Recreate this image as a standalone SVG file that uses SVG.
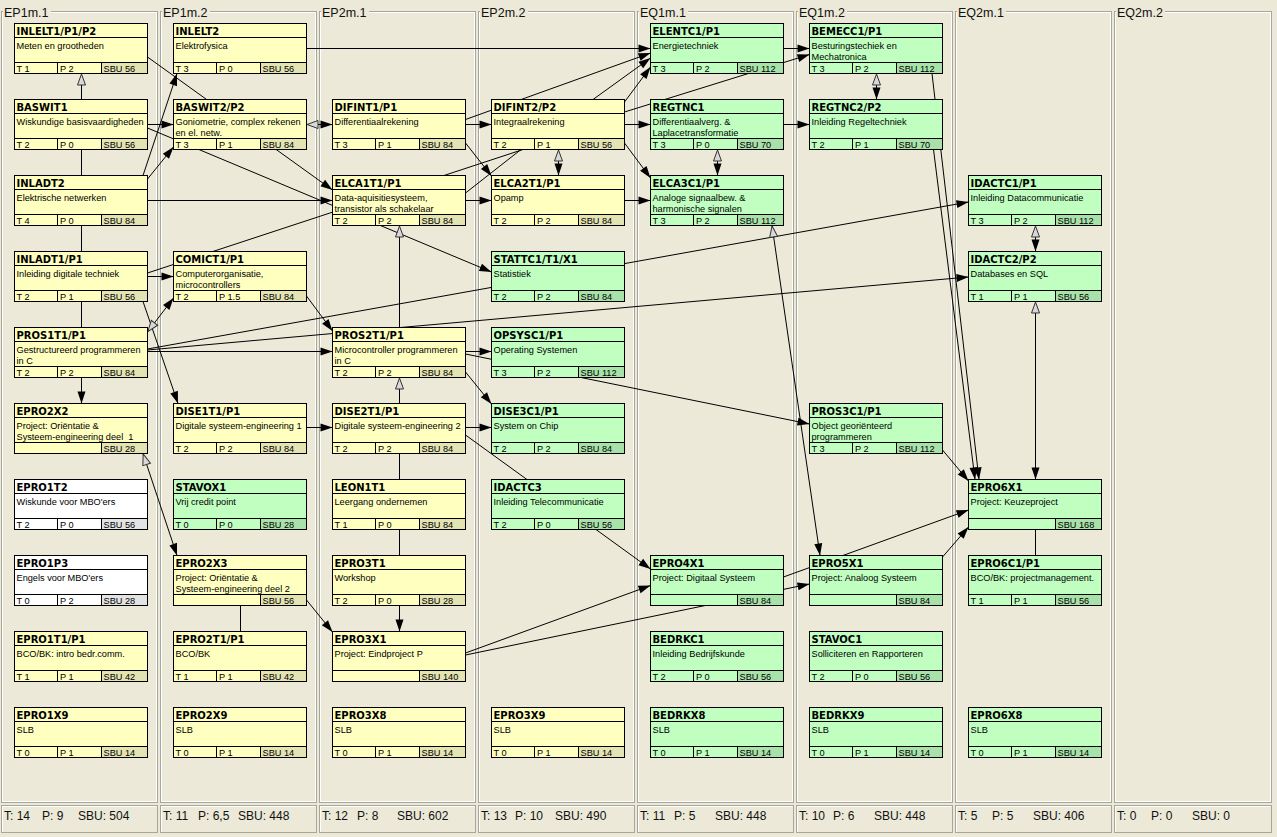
<svg xmlns="http://www.w3.org/2000/svg" width="1277" height="837" viewBox="0 0 1277 837">
<style>
.fr{fill:none;stroke:#A7A69A;stroke-width:1}
.frw{fill:none;stroke:#FFFFFF;stroke-width:1}
.hb{fill:#ECE9D8}
.hd{font-family:"Liberation Sans",Arial,sans-serif;font-size:12.5px;fill:#111}
.ft{font-family:"Liberation Sans",Arial,sans-serif;font-size:12px;fill:#111}
.ln{fill:none;stroke:#000;stroke-width:1}
.a{marker-end:url(#fa)}
.h{marker-start:url(#ha)}
.he{marker-end:url(#ha)}
.node .f{stroke:none}
.node .o{fill:none;stroke:#000;stroke-width:1}
.node .gl{fill:none;stroke:#000;stroke-width:1}
.y .f{fill:#FFFFC0}.y .s{fill:#E4E3B2}
.g .f{fill:#C0FFC0}.g .s{fill:#A9E2A9}
.w .f{fill:#FFFFFF}.w .s{fill:#E3E3E3}
.t{font-family:"DejaVu Sans",Verdana,sans-serif;font-weight:bold;font-size:10px;fill:#000}
.d{font-family:"Liberation Sans",Arial,sans-serif;font-size:9.2px;fill:#000}
</style>
<defs>
<marker id="fa" markerUnits="userSpaceOnUse" markerWidth="13" markerHeight="9" refX="12" refY="4.5" orient="auto" overflow="visible">
<path d="M0,0.5L12,4.5L0,8.5z" fill="#000"/>
</marker>
<marker id="ha" markerUnits="userSpaceOnUse" markerWidth="13" markerHeight="9" refX="12" refY="4.5" orient="auto-start-reverse" overflow="visible">
<path d="M0.5,0.5L11.5,4.5L0.5,8.5z" fill="#D8D8D8" stroke="#333" stroke-width="1"/>
</marker>
</defs>
<rect x="0" y="0" width="1277" height="837" fill="#ECE9D8"/>
<g id="columns">
<rect class="fr" x="1.5" y="11.5" width="156" height="791"/><rect class="frw" x="2.5" y="12.5" width="154" height="789"/>
<rect class="fr" x="160.5" y="11.5" width="156" height="791"/><rect class="frw" x="161.5" y="12.5" width="154" height="789"/>
<rect class="fr" x="319.5" y="11.5" width="156" height="791"/><rect class="frw" x="320.5" y="12.5" width="154" height="789"/>
<rect class="fr" x="478.5" y="11.5" width="156" height="791"/><rect class="frw" x="479.5" y="12.5" width="154" height="789"/>
<rect class="fr" x="637.5" y="11.5" width="156" height="791"/><rect class="frw" x="638.5" y="12.5" width="154" height="789"/>
<rect class="fr" x="796.5" y="11.5" width="156" height="791"/><rect class="frw" x="797.5" y="12.5" width="154" height="789"/>
<rect class="fr" x="955.5" y="11.5" width="156" height="791"/><rect class="frw" x="956.5" y="12.5" width="154" height="789"/>
<rect class="fr" x="1114.5" y="11.5" width="157" height="791"/><rect class="frw" x="1115.5" y="12.5" width="155" height="789"/>
<rect class="hb" x="3" y="4" width="48" height="12"/><text class="hd" x="4" y="17">EP1m.1</text>
<rect class="hb" x="162" y="4" width="48" height="12"/><text class="hd" x="163" y="17">EP1m.2</text>
<rect class="hb" x="321" y="4" width="48" height="12"/><text class="hd" x="322" y="17">EP2m.1</text>
<rect class="hb" x="480" y="4" width="48" height="12"/><text class="hd" x="481" y="17">EP2m.2</text>
<rect class="hb" x="639" y="4" width="49" height="12"/><text class="hd" x="640" y="17">EQ1m.1</text>
<rect class="hb" x="798" y="4" width="49" height="12"/><text class="hd" x="799" y="17">EQ1m.2</text>
<rect class="hb" x="957" y="4" width="49" height="12"/><text class="hd" x="958" y="17">EQ2m.1</text>
<rect class="hb" x="1116" y="4" width="49" height="12"/><text class="hd" x="1117" y="17">EQ2m.2</text>
</g>
<g id="footer">
<rect class="fr" x="1.5" y="805.5" width="156" height="27"/><path class="frw" d="M2.5,831.5V806.5H156.5"/>
<rect class="fr" x="160.5" y="805.5" width="156" height="27"/><path class="frw" d="M161.5,831.5V806.5H315.5"/>
<rect class="fr" x="319.5" y="805.5" width="156" height="27"/><path class="frw" d="M320.5,831.5V806.5H474.5"/>
<rect class="fr" x="478.5" y="805.5" width="156" height="27"/><path class="frw" d="M479.5,831.5V806.5H633.5"/>
<rect class="fr" x="637.5" y="805.5" width="156" height="27"/><path class="frw" d="M638.5,831.5V806.5H792.5"/>
<rect class="fr" x="796.5" y="805.5" width="156" height="27"/><path class="frw" d="M797.5,831.5V806.5H951.5"/>
<rect class="fr" x="955.5" y="805.5" width="156" height="27"/><path class="frw" d="M956.5,831.5V806.5H1110.5"/>
<rect class="fr" x="1114.5" y="805.5" width="157" height="27"/><path class="frw" d="M1115.5,831.5V806.5H1270.5"/>
<text class="ft" x="4" y="820">T: 14</text><text class="ft" x="42" y="820">P: 9</text><text class="ft" x="78" y="820">SBU: 504</text>
<text class="ft" x="163" y="820">T: 11</text><text class="ft" x="198" y="820">P: 6,5</text><text class="ft" x="238" y="820">SBU: 448</text>
<text class="ft" x="322" y="820">T: 12</text><text class="ft" x="357" y="820">P: 8</text><text class="ft" x="397" y="820">SBU: 602</text>
<text class="ft" x="481" y="820">T: 13</text><text class="ft" x="515" y="820">P: 10</text><text class="ft" x="555" y="820">SBU: 490</text>
<text class="ft" x="640" y="820">T: 11</text><text class="ft" x="674" y="820">P: 5</text><text class="ft" x="715" y="820">SBU: 448</text>
<text class="ft" x="799" y="820">T: 10</text><text class="ft" x="833" y="820">P: 6</text><text class="ft" x="874" y="820">SBU: 448</text>
<text class="ft" x="958" y="820">T: 5</text><text class="ft" x="992" y="820">P: 5</text><text class="ft" x="1033" y="820">SBU: 406</text>
<text class="ft" x="1117" y="820">T: 0</text><text class="ft" x="1151" y="820">P: 0</text><text class="ft" x="1192" y="820">SBU: 0</text>
</g>
<g id="connectors">
<path class="ln" d="M81.5,149.5V175.5"/>
<path class="ln" d="M81.5,225.5V251.5"/>
<path class="ln" d="M81.5,301.5V327.5"/>
<path class="ln" d="M147.5,273L523,149.5"/>
<path class="ln" d="M465.5,193L521,149.5"/>
<path class="ln" d="M399.5,453.5V479.5"/>
<path class="ln" d="M399.5,529.5V555.5"/>
<path class="ln" d="M240.5,605.5V631.5"/>
<path class="ln" d="M1035.5,529.5V555.5"/>
<path class="ln a" d="M81.5,377.5V403.5"/>
<path class="ln a" d="M147.5,57L332.5,190"/>
<path class="ln a" d="M147.5,124.5H173.5"/>
<path class="ln a" d="M147.5,128L491.5,272"/>
<path class="ln a" d="M143,175.5L177,73.5"/>
<path class="ln a" d="M147.5,179L173.5,147"/>
<path class="ln a" d="M147.5,200.5H332.5"/>
<path class="ln a" d="M306.5,48.5H650.5"/>
<path class="ln a" d="M465.5,124.5H491.5"/>
<path class="ln a" d="M465.5,119.5L650.5,53"/>
<path class="ln a" d="M593,99.5L650.5,58"/>
<path class="ln a" d="M624.5,102L650.5,67"/>
<path class="ln a" d="M624.5,112L809.5,54.5"/>
<path class="ln a" d="M624.5,124.5H650.5"/>
<path class="ln a" d="M624.5,143L650.5,178"/>
<path class="ln a" d="M465.5,143L491.5,176"/>
<path class="ln a" d="M465.5,200.5H491.5"/>
<path class="ln a" d="M624.5,200.5H650.5"/>
<path class="ln a" d="M783.5,48.5H809.5"/>
<path class="ln a" d="M783.5,124.5H809.5"/>
<path class="ln a" d="M147.5,276.5H173.5"/>
<path class="ln a" d="M143,301.5L178,403.5"/>
<path class="ln a" d="M306.5,296L332.5,331"/>
<path class="ln a" d="M147.5,351.5H332.5"/>
<path class="ln a" d="M147.5,349L968.5,202"/>
<path class="ln a" d="M147.5,350L968.5,277"/>
<path class="ln a" d="M465.5,351.5H491.5"/>
<path class="ln a" d="M465.5,354L809.5,424"/>
<path class="ln a" d="M465.5,372L491.5,404"/>
<path class="ln a" d="M306.5,427.5H332.5"/>
<path class="ln a" d="M465.5,427.5H491.5"/>
<path class="ln a" d="M465.5,435L650.5,569"/>
<path class="ln a" d="M306.5,600L332.5,632"/>
<path class="ln a" d="M399.5,605.5V631.5"/>
<path class="ln a" d="M465.5,653L650.5,585.5"/>
<path class="ln a" d="M465.5,655L809.5,584"/>
<path class="ln a" d="M783.5,577L968.5,510"/>
<path class="ln a" d="M942.5,557L968.5,527"/>
<path class="ln a" d="M942.5,450L968.5,481"/>
<path class="ln a" d="M932,73.5L979,479.5"/>
<path class="ln a" d="M933.5,149.5L975,479.5"/>
<path class="ln a h" d="M306.5,124.5H332.5"/>
<path class="ln a h" d="M558.5,149.5V175.5"/>
<path class="ln a h" d="M876.5,73.5V99.5"/>
<path class="ln a h" d="M717.5,149.5V175.5"/>
<path class="ln a h" d="M147.5,332L173.5,298"/>
<path class="ln a h" d="M143,453.5L177,555.5"/>
<path class="ln a h" d="M772,225.5L820,555.5"/>
<path class="ln a h" d="M1035.5,225.5V251.5"/>
<path class="ln a h" d="M1035.5,301.5V479.5"/>
<path class="ln he" d="M81.5,99.5V73.5"/>
<path class="ln he" d="M399.5,327.5V225.5"/>
<path class="ln he" d="M399.5,403.5V377.5"/>
</g>
<g id="nodes">
<g id="n-INLELT1-P1-P2" class="node y" transform="translate(14.5,23.5)"><rect class="f" width="133" height="50"/><rect class="s" x="87" y="39" width="46" height="11"/><path class="gl" d="M0,14H133M0,39H133M43,39V50M87,39V50"/><rect class="o" width="133" height="50"/><text class="t" x="2" y="11">INLELT1/P1/P2</text><text class="d" x="2" y="25">Meten en grootheden</text><text class="d" x="2" y="48.5">T 1</text><text class="d" x="45.5" y="48.5">P 2</text><text class="d" x="89" y="48.5">SBU 56</text></g>
<g id="n-BASWIT1" class="node y" transform="translate(14.5,99.5)"><rect class="f" width="133" height="50"/><rect class="s" x="87" y="39" width="46" height="11"/><path class="gl" d="M0,14H133M0,39H133M43,39V50M87,39V50"/><rect class="o" width="133" height="50"/><text class="t" x="2" y="11">BASWIT1</text><text class="d" x="2" y="25">Wiskundige basisvaardigheden</text><text class="d" x="2" y="48.5">T 2</text><text class="d" x="45.5" y="48.5">P 0</text><text class="d" x="89" y="48.5">SBU 56</text></g>
<g id="n-INLADT2" class="node y" transform="translate(14.5,175.5)"><rect class="f" width="133" height="50"/><rect class="s" x="87" y="39" width="46" height="11"/><path class="gl" d="M0,14H133M0,39H133M43,39V50M87,39V50"/><rect class="o" width="133" height="50"/><text class="t" x="2" y="11">INLADT2</text><text class="d" x="2" y="25">Elektrische netwerken</text><text class="d" x="2" y="48.5">T 4</text><text class="d" x="45.5" y="48.5">P 0</text><text class="d" x="89" y="48.5">SBU 84</text></g>
<g id="n-INLADT1-P1" class="node y" transform="translate(14.5,251.5)"><rect class="f" width="133" height="50"/><rect class="s" x="87" y="39" width="46" height="11"/><path class="gl" d="M0,14H133M0,39H133M43,39V50M87,39V50"/><rect class="o" width="133" height="50"/><text class="t" x="2" y="11">INLADT1/P1</text><text class="d" x="2" y="25">Inleiding digitale techniek</text><text class="d" x="2" y="48.5">T 2</text><text class="d" x="45.5" y="48.5">P 1</text><text class="d" x="89" y="48.5">SBU 56</text></g>
<g id="n-PROS1T1-P1" class="node y" transform="translate(14.5,327.5)"><rect class="f" width="133" height="50"/><rect class="s" x="87" y="39" width="46" height="11"/><path class="gl" d="M0,14H133M0,39H133M43,39V50M87,39V50"/><rect class="o" width="133" height="50"/><text class="t" x="2" y="11">PROS1T1/P1</text><text class="d" x="2" y="25">Gestructureerd programmeren</text><text class="d" x="2" y="36.5">in C</text><text class="d" x="2" y="48.5">T 2</text><text class="d" x="45.5" y="48.5">P 2</text><text class="d" x="89" y="48.5">SBU 84</text></g>
<g id="n-EPRO2X2" class="node y" transform="translate(14.5,403.5)"><rect class="f" width="133" height="50"/><rect class="s" x="87" y="39" width="46" height="11"/><path class="gl" d="M0,14H133M0,39H133M87,39V50"/><rect class="o" width="133" height="50"/><text class="t" x="2" y="11">EPRO2X2</text><text class="d" x="2" y="25">Project: Oriëntatie &amp;</text><text class="d" x="2" y="36.5" xml:space="preserve">Systeem-engineering deel  1</text><text class="d" x="89" y="48.5">SBU 28</text></g>
<g id="n-EPRO1T2" class="node w" transform="translate(14.5,479.5)"><rect class="f" width="133" height="50"/><rect class="s" x="87" y="39" width="46" height="11"/><path class="gl" d="M0,14H133M0,39H133M43,39V50M87,39V50"/><rect class="o" width="133" height="50"/><text class="t" x="2" y="11">EPRO1T2</text><text class="d" x="2" y="25">Wiskunde voor MBO'ers</text><text class="d" x="2" y="48.5">T 2</text><text class="d" x="45.5" y="48.5">P 0</text><text class="d" x="89" y="48.5">SBU 56</text></g>
<g id="n-EPRO1P3" class="node w" transform="translate(14.5,555.5)"><rect class="f" width="133" height="50"/><rect class="s" x="87" y="39" width="46" height="11"/><path class="gl" d="M0,14H133M0,39H133M43,39V50M87,39V50"/><rect class="o" width="133" height="50"/><text class="t" x="2" y="11">EPRO1P3</text><text class="d" x="2" y="25">Engels voor MBO'ers</text><text class="d" x="2" y="48.5">T 0</text><text class="d" x="45.5" y="48.5">P 2</text><text class="d" x="89" y="48.5">SBU 28</text></g>
<g id="n-EPRO1T1-P1" class="node y" transform="translate(14.5,631.5)"><rect class="f" width="133" height="50"/><rect class="s" x="87" y="39" width="46" height="11"/><path class="gl" d="M0,14H133M0,39H133M43,39V50M87,39V50"/><rect class="o" width="133" height="50"/><text class="t" x="2" y="11">EPRO1T1/P1</text><text class="d" x="2" y="25">BCO/BK: intro bedr.comm.</text><text class="d" x="2" y="48.5">T 1</text><text class="d" x="45.5" y="48.5">P 1</text><text class="d" x="89" y="48.5">SBU 42</text></g>
<g id="n-EPRO1X9" class="node y" transform="translate(14.5,707.5)"><rect class="f" width="133" height="50"/><rect class="s" x="87" y="39" width="46" height="11"/><path class="gl" d="M0,14H133M0,39H133M43,39V50M87,39V50"/><rect class="o" width="133" height="50"/><text class="t" x="2" y="11">EPRO1X9</text><text class="d" x="2" y="25">SLB</text><text class="d" x="2" y="48.5">T 0</text><text class="d" x="45.5" y="48.5">P 1</text><text class="d" x="89" y="48.5">SBU 14</text></g>

<g id="n-INLELT2" class="node y" transform="translate(173.5,23.5)"><rect class="f" width="133" height="50"/><rect class="s" x="87" y="39" width="46" height="11"/><path class="gl" d="M0,14H133M0,39H133M43,39V50M87,39V50"/><rect class="o" width="133" height="50"/><text class="t" x="2" y="11">INLELT2</text><text class="d" x="2" y="25">Elektrofysica</text><text class="d" x="2" y="48.5">T 3</text><text class="d" x="45.5" y="48.5">P 0</text><text class="d" x="89" y="48.5">SBU 56</text></g>
<g id="n-BASWIT2-P2" class="node y" transform="translate(173.5,99.5)"><rect class="f" width="133" height="50"/><rect class="s" x="87" y="39" width="46" height="11"/><path class="gl" d="M0,14H133M0,39H133M43,39V50M87,39V50"/><rect class="o" width="133" height="50"/><text class="t" x="2" y="11">BASWIT2/P2</text><text class="d" x="2" y="25">Goniometrie, complex rekenen</text><text class="d" x="2" y="36.5">en el. netw.</text><text class="d" x="2" y="48.5">T 3</text><text class="d" x="45.5" y="48.5">P 1</text><text class="d" x="89" y="48.5">SBU 84</text></g>
<g id="n-COMICT1-P1" class="node y" transform="translate(173.5,251.5)"><rect class="f" width="133" height="50"/><rect class="s" x="87" y="39" width="46" height="11"/><path class="gl" d="M0,14H133M0,39H133M43,39V50M87,39V50"/><rect class="o" width="133" height="50"/><text class="t" x="2" y="11">COMICT1/P1</text><text class="d" x="2" y="25">Computerorganisatie,</text><text class="d" x="2" y="36.5">microcontrollers</text><text class="d" x="2" y="48.5">T 2</text><text class="d" x="45.5" y="48.5">P 1.5</text><text class="d" x="89" y="48.5">SBU 84</text></g>
<g id="n-DISE1T1-P1" class="node y" transform="translate(173.5,403.5)"><rect class="f" width="133" height="50"/><rect class="s" x="87" y="39" width="46" height="11"/><path class="gl" d="M0,14H133M0,39H133M43,39V50M87,39V50"/><rect class="o" width="133" height="50"/><text class="t" x="2" y="11">DISE1T1/P1</text><text class="d" x="2" y="25">Digitale systeem-engineering 1</text><text class="d" x="2" y="48.5">T 2</text><text class="d" x="45.5" y="48.5">P 2</text><text class="d" x="89" y="48.5">SBU 84</text></g>
<g id="n-STAVOX1" class="node g" transform="translate(173.5,479.5)"><rect class="f" width="133" height="50"/><rect class="s" x="87" y="39" width="46" height="11"/><path class="gl" d="M0,14H133M0,39H133M43,39V50M87,39V50"/><rect class="o" width="133" height="50"/><text class="t" x="2" y="11">STAVOX1</text><text class="d" x="2" y="25">Vrij credit point</text><text class="d" x="2" y="48.5">T 0</text><text class="d" x="45.5" y="48.5">P 0</text><text class="d" x="89" y="48.5">SBU 28</text></g>
<g id="n-EPRO2X3" class="node y" transform="translate(173.5,555.5)"><rect class="f" width="133" height="50"/><rect class="s" x="87" y="39" width="46" height="11"/><path class="gl" d="M0,14H133M0,39H133M87,39V50"/><rect class="o" width="133" height="50"/><text class="t" x="2" y="11">EPRO2X3</text><text class="d" x="2" y="25">Project: Oriëntatie &amp;</text><text class="d" x="2" y="36.5">Systeem-engineering deel 2</text><text class="d" x="89" y="48.5">SBU 56</text></g>
<g id="n-EPRO2T1-P1" class="node y" transform="translate(173.5,631.5)"><rect class="f" width="133" height="50"/><rect class="s" x="87" y="39" width="46" height="11"/><path class="gl" d="M0,14H133M0,39H133M43,39V50M87,39V50"/><rect class="o" width="133" height="50"/><text class="t" x="2" y="11">EPRO2T1/P1</text><text class="d" x="2" y="25">BCO/BK</text><text class="d" x="2" y="48.5">T 1</text><text class="d" x="45.5" y="48.5">P 1</text><text class="d" x="89" y="48.5">SBU 42</text></g>
<g id="n-EPRO2X9" class="node y" transform="translate(173.5,707.5)"><rect class="f" width="133" height="50"/><rect class="s" x="87" y="39" width="46" height="11"/><path class="gl" d="M0,14H133M0,39H133M43,39V50M87,39V50"/><rect class="o" width="133" height="50"/><text class="t" x="2" y="11">EPRO2X9</text><text class="d" x="2" y="25">SLB</text><text class="d" x="2" y="48.5">T 0</text><text class="d" x="45.5" y="48.5">P 1</text><text class="d" x="89" y="48.5">SBU 14</text></g>

<g id="n-DIFINT1-P1" class="node y" transform="translate(332.5,99.5)"><rect class="f" width="133" height="50"/><rect class="s" x="87" y="39" width="46" height="11"/><path class="gl" d="M0,14H133M0,39H133M43,39V50M87,39V50"/><rect class="o" width="133" height="50"/><text class="t" x="2" y="11">DIFINT1/P1</text><text class="d" x="2" y="25">Differentiaalrekening</text><text class="d" x="2" y="48.5">T 3</text><text class="d" x="45.5" y="48.5">P 1</text><text class="d" x="89" y="48.5">SBU 84</text></g>
<g id="n-ELCA1T1-P1" class="node y" transform="translate(332.5,175.5)"><rect class="f" width="133" height="50"/><rect class="s" x="87" y="39" width="46" height="11"/><path class="gl" d="M0,14H133M0,39H133M43,39V50M87,39V50"/><rect class="o" width="133" height="50"/><text class="t" x="2" y="11">ELCA1T1/P1</text><text class="d" x="2" y="25">Data-aquisitiesysteem,</text><text class="d" x="2" y="36.5">transistor als schakelaar</text><text class="d" x="2" y="48.5">T 2</text><text class="d" x="45.5" y="48.5">P 2</text><text class="d" x="89" y="48.5">SBU 84</text></g>
<g id="n-PROS2T1-P1" class="node y" transform="translate(332.5,327.5)"><rect class="f" width="133" height="50"/><rect class="s" x="87" y="39" width="46" height="11"/><path class="gl" d="M0,14H133M0,39H133M43,39V50M87,39V50"/><rect class="o" width="133" height="50"/><text class="t" x="2" y="11">PROS2T1/P1</text><text class="d" x="2" y="25">Microcontroller programmeren</text><text class="d" x="2" y="36.5">in C</text><text class="d" x="2" y="48.5">T 2</text><text class="d" x="45.5" y="48.5">P 2</text><text class="d" x="89" y="48.5">SBU 84</text></g>
<g id="n-DISE2T1-P1" class="node y" transform="translate(332.5,403.5)"><rect class="f" width="133" height="50"/><rect class="s" x="87" y="39" width="46" height="11"/><path class="gl" d="M0,14H133M0,39H133M43,39V50M87,39V50"/><rect class="o" width="133" height="50"/><text class="t" x="2" y="11">DISE2T1/P1</text><text class="d" x="2" y="25">Digitale systeem-engineering 2</text><text class="d" x="2" y="48.5">T 2</text><text class="d" x="45.5" y="48.5">P 2</text><text class="d" x="89" y="48.5">SBU 84</text></g>
<g id="n-LEON1T1" class="node y" transform="translate(332.5,479.5)"><rect class="f" width="133" height="50"/><rect class="s" x="87" y="39" width="46" height="11"/><path class="gl" d="M0,14H133M0,39H133M43,39V50M87,39V50"/><rect class="o" width="133" height="50"/><text class="t" x="2" y="11">LEON1T1</text><text class="d" x="2" y="25">Leergang ondernemen</text><text class="d" x="2" y="48.5">T 1</text><text class="d" x="45.5" y="48.5">P 0</text><text class="d" x="89" y="48.5">SBU 84</text></g>
<g id="n-EPRO3T1" class="node y" transform="translate(332.5,555.5)"><rect class="f" width="133" height="50"/><rect class="s" x="87" y="39" width="46" height="11"/><path class="gl" d="M0,14H133M0,39H133M43,39V50M87,39V50"/><rect class="o" width="133" height="50"/><text class="t" x="2" y="11">EPRO3T1</text><text class="d" x="2" y="25">Workshop</text><text class="d" x="2" y="48.5">T 2</text><text class="d" x="45.5" y="48.5">P 0</text><text class="d" x="89" y="48.5">SBU 28</text></g>
<g id="n-EPRO3X1" class="node y" transform="translate(332.5,631.5)"><rect class="f" width="133" height="50"/><rect class="s" x="87" y="39" width="46" height="11"/><path class="gl" d="M0,14H133M0,39H133M87,39V50"/><rect class="o" width="133" height="50"/><text class="t" x="2" y="11">EPRO3X1</text><text class="d" x="2" y="25">Project: Eindproject P</text><text class="d" x="89" y="48.5">SBU 140</text></g>
<g id="n-EPRO3X8" class="node y" transform="translate(332.5,707.5)"><rect class="f" width="133" height="50"/><rect class="s" x="87" y="39" width="46" height="11"/><path class="gl" d="M0,14H133M0,39H133M43,39V50M87,39V50"/><rect class="o" width="133" height="50"/><text class="t" x="2" y="11">EPRO3X8</text><text class="d" x="2" y="25">SLB</text><text class="d" x="2" y="48.5">T 0</text><text class="d" x="45.5" y="48.5">P 1</text><text class="d" x="89" y="48.5">SBU 14</text></g>

<g id="n-DIFINT2-P2" class="node y" transform="translate(491.5,99.5)"><rect class="f" width="133" height="50"/><rect class="s" x="87" y="39" width="46" height="11"/><path class="gl" d="M0,14H133M0,39H133M43,39V50M87,39V50"/><rect class="o" width="133" height="50"/><text class="t" x="2" y="11">DIFINT2/P2</text><text class="d" x="2" y="25">Integraalrekening</text><text class="d" x="2" y="48.5">T 2</text><text class="d" x="45.5" y="48.5">P 1</text><text class="d" x="89" y="48.5">SBU 56</text></g>
<g id="n-ELCA2T1-P1" class="node y" transform="translate(491.5,175.5)"><rect class="f" width="133" height="50"/><rect class="s" x="87" y="39" width="46" height="11"/><path class="gl" d="M0,14H133M0,39H133M43,39V50M87,39V50"/><rect class="o" width="133" height="50"/><text class="t" x="2" y="11">ELCA2T1/P1</text><text class="d" x="2" y="25">Opamp</text><text class="d" x="2" y="48.5">T 2</text><text class="d" x="45.5" y="48.5">P 2</text><text class="d" x="89" y="48.5">SBU 84</text></g>
<g id="n-STATTC1-T1-X1" class="node g" transform="translate(491.5,251.5)"><rect class="f" width="133" height="50"/><rect class="s" x="87" y="39" width="46" height="11"/><path class="gl" d="M0,14H133M0,39H133M43,39V50M87,39V50"/><rect class="o" width="133" height="50"/><text class="t" x="2" y="11">STATTC1/T1/X1</text><text class="d" x="2" y="25">Statistiek</text><text class="d" x="2" y="48.5">T 2</text><text class="d" x="45.5" y="48.5">P 2</text><text class="d" x="89" y="48.5">SBU 84</text></g>
<g id="n-OPSYSC1-P1" class="node g" transform="translate(491.5,327.5)"><rect class="f" width="133" height="50"/><rect class="s" x="87" y="39" width="46" height="11"/><path class="gl" d="M0,14H133M0,39H133M43,39V50M87,39V50"/><rect class="o" width="133" height="50"/><text class="t" x="2" y="11">OPSYSC1/P1</text><text class="d" x="2" y="25">Operating Systemen</text><text class="d" x="2" y="48.5">T 3</text><text class="d" x="45.5" y="48.5">P 2</text><text class="d" x="89" y="48.5">SBU 112</text></g>
<g id="n-DISE3C1-P1" class="node g" transform="translate(491.5,403.5)"><rect class="f" width="133" height="50"/><rect class="s" x="87" y="39" width="46" height="11"/><path class="gl" d="M0,14H133M0,39H133M43,39V50M87,39V50"/><rect class="o" width="133" height="50"/><text class="t" x="2" y="11">DISE3C1/P1</text><text class="d" x="2" y="25">System on Chip</text><text class="d" x="2" y="48.5">T 2</text><text class="d" x="45.5" y="48.5">P 2</text><text class="d" x="89" y="48.5">SBU 84</text></g>
<g id="n-IDACTC3" class="node g" transform="translate(491.5,479.5)"><rect class="f" width="133" height="50"/><rect class="s" x="87" y="39" width="46" height="11"/><path class="gl" d="M0,14H133M0,39H133M43,39V50M87,39V50"/><rect class="o" width="133" height="50"/><text class="t" x="2" y="11">IDACTC3</text><text class="d" x="2" y="25">Inleiding Telecommunicatie</text><text class="d" x="2" y="48.5">T 2</text><text class="d" x="45.5" y="48.5">P 0</text><text class="d" x="89" y="48.5">SBU 56</text></g>
<g id="n-EPRO3X9" class="node y" transform="translate(491.5,707.5)"><rect class="f" width="133" height="50"/><rect class="s" x="87" y="39" width="46" height="11"/><path class="gl" d="M0,14H133M0,39H133M43,39V50M87,39V50"/><rect class="o" width="133" height="50"/><text class="t" x="2" y="11">EPRO3X9</text><text class="d" x="2" y="25">SLB</text><text class="d" x="2" y="48.5">T 0</text><text class="d" x="45.5" y="48.5">P 1</text><text class="d" x="89" y="48.5">SBU 14</text></g>

<g id="n-ELENTC1-P1" class="node g" transform="translate(650.5,23.5)"><rect class="f" width="133" height="50"/><rect class="s" x="87" y="39" width="46" height="11"/><path class="gl" d="M0,14H133M0,39H133M43,39V50M87,39V50"/><rect class="o" width="133" height="50"/><text class="t" x="2" y="11">ELENTC1/P1</text><text class="d" x="2" y="25">Energietechniek</text><text class="d" x="2" y="48.5">T 3</text><text class="d" x="45.5" y="48.5">P 2</text><text class="d" x="89" y="48.5">SBU 112</text></g>
<g id="n-REGTNC1" class="node g" transform="translate(650.5,99.5)"><rect class="f" width="133" height="50"/><rect class="s" x="87" y="39" width="46" height="11"/><path class="gl" d="M0,14H133M0,39H133M43,39V50M87,39V50"/><rect class="o" width="133" height="50"/><text class="t" x="2" y="11">REGTNC1</text><text class="d" x="2" y="25">Differentiaalverg. &amp;</text><text class="d" x="2" y="36.5">Laplacetransformatie</text><text class="d" x="2" y="48.5">T 3</text><text class="d" x="45.5" y="48.5">P 0</text><text class="d" x="89" y="48.5">SBU 70</text></g>
<g id="n-ELCA3C1-P1" class="node g" transform="translate(650.5,175.5)"><rect class="f" width="133" height="50"/><rect class="s" x="87" y="39" width="46" height="11"/><path class="gl" d="M0,14H133M0,39H133M43,39V50M87,39V50"/><rect class="o" width="133" height="50"/><text class="t" x="2" y="11">ELCA3C1/P1</text><text class="d" x="2" y="25">Analoge signaalbew. &amp;</text><text class="d" x="2" y="36.5">harmonische signalen</text><text class="d" x="2" y="48.5">T 3</text><text class="d" x="45.5" y="48.5">P 2</text><text class="d" x="89" y="48.5">SBU 112</text></g>
<g id="n-EPRO4X1" class="node g" transform="translate(650.5,555.5)"><rect class="f" width="133" height="50"/><rect class="s" x="87" y="39" width="46" height="11"/><path class="gl" d="M0,14H133M0,39H133M87,39V50"/><rect class="o" width="133" height="50"/><text class="t" x="2" y="11">EPRO4X1</text><text class="d" x="2" y="25">Project: Digitaal Systeem</text><text class="d" x="89" y="48.5">SBU 84</text></g>
<g id="n-BEDRKC1" class="node g" transform="translate(650.5,631.5)"><rect class="f" width="133" height="50"/><rect class="s" x="87" y="39" width="46" height="11"/><path class="gl" d="M0,14H133M0,39H133M43,39V50M87,39V50"/><rect class="o" width="133" height="50"/><text class="t" x="2" y="11">BEDRKC1</text><text class="d" x="2" y="25">Inleiding Bedrijfskunde</text><text class="d" x="2" y="48.5">T 2</text><text class="d" x="45.5" y="48.5">P 0</text><text class="d" x="89" y="48.5">SBU 56</text></g>
<g id="n-BEDRKX8" class="node g" transform="translate(650.5,707.5)"><rect class="f" width="133" height="50"/><rect class="s" x="87" y="39" width="46" height="11"/><path class="gl" d="M0,14H133M0,39H133M43,39V50M87,39V50"/><rect class="o" width="133" height="50"/><text class="t" x="2" y="11">BEDRKX8</text><text class="d" x="2" y="25">SLB</text><text class="d" x="2" y="48.5">T 0</text><text class="d" x="45.5" y="48.5">P 1</text><text class="d" x="89" y="48.5">SBU 14</text></g>

<g id="n-BEMECC1-P1" class="node g" transform="translate(809.5,23.5)"><rect class="f" width="133" height="50"/><rect class="s" x="87" y="39" width="46" height="11"/><path class="gl" d="M0,14H133M0,39H133M43,39V50M87,39V50"/><rect class="o" width="133" height="50"/><text class="t" x="2" y="11">BEMECC1/P1</text><text class="d" x="2" y="25">Besturingstechiek en</text><text class="d" x="2" y="36.5">Mechatronica</text><text class="d" x="2" y="48.5">T 3</text><text class="d" x="45.5" y="48.5">P 2</text><text class="d" x="89" y="48.5">SBU 112</text></g>
<g id="n-REGTNC2-P2" class="node g" transform="translate(809.5,99.5)"><rect class="f" width="133" height="50"/><rect class="s" x="87" y="39" width="46" height="11"/><path class="gl" d="M0,14H133M0,39H133M43,39V50M87,39V50"/><rect class="o" width="133" height="50"/><text class="t" x="2" y="11">REGTNC2/P2</text><text class="d" x="2" y="25">Inleiding Regeltechniek</text><text class="d" x="2" y="48.5">T 2</text><text class="d" x="45.5" y="48.5">P 1</text><text class="d" x="89" y="48.5">SBU 70</text></g>
<g id="n-PROS3C1-P1" class="node g" transform="translate(809.5,403.5)"><rect class="f" width="133" height="50"/><rect class="s" x="87" y="39" width="46" height="11"/><path class="gl" d="M0,14H133M0,39H133M43,39V50M87,39V50"/><rect class="o" width="133" height="50"/><text class="t" x="2" y="11">PROS3C1/P1</text><text class="d" x="2" y="25">Object georiënteerd</text><text class="d" x="2" y="36.5">programmeren</text><text class="d" x="2" y="48.5">T 3</text><text class="d" x="45.5" y="48.5">P 2</text><text class="d" x="89" y="48.5">SBU 112</text></g>
<g id="n-EPRO5X1" class="node g" transform="translate(809.5,555.5)"><rect class="f" width="133" height="50"/><rect class="s" x="87" y="39" width="46" height="11"/><path class="gl" d="M0,14H133M0,39H133M87,39V50"/><rect class="o" width="133" height="50"/><text class="t" x="2" y="11">EPRO5X1</text><text class="d" x="2" y="25">Project: Analoog Systeem</text><text class="d" x="89" y="48.5">SBU 84</text></g>
<g id="n-STAVOC1" class="node g" transform="translate(809.5,631.5)"><rect class="f" width="133" height="50"/><rect class="s" x="87" y="39" width="46" height="11"/><path class="gl" d="M0,14H133M0,39H133M43,39V50M87,39V50"/><rect class="o" width="133" height="50"/><text class="t" x="2" y="11">STAVOC1</text><text class="d" x="2" y="25">Solliciteren en Rapporteren</text><text class="d" x="2" y="48.5">T 2</text><text class="d" x="45.5" y="48.5">P 0</text><text class="d" x="89" y="48.5">SBU 56</text></g>
<g id="n-BEDRKX9" class="node g" transform="translate(809.5,707.5)"><rect class="f" width="133" height="50"/><rect class="s" x="87" y="39" width="46" height="11"/><path class="gl" d="M0,14H133M0,39H133M43,39V50M87,39V50"/><rect class="o" width="133" height="50"/><text class="t" x="2" y="11">BEDRKX9</text><text class="d" x="2" y="25">SLB</text><text class="d" x="2" y="48.5">T 0</text><text class="d" x="45.5" y="48.5">P 1</text><text class="d" x="89" y="48.5">SBU 14</text></g>

<g id="n-IDACTC1-P1" class="node g" transform="translate(968.5,175.5)"><rect class="f" width="133" height="50"/><rect class="s" x="87" y="39" width="46" height="11"/><path class="gl" d="M0,14H133M0,39H133M43,39V50M87,39V50"/><rect class="o" width="133" height="50"/><text class="t" x="2" y="11">IDACTC1/P1</text><text class="d" x="2" y="25">Inleiding Datacommunicatie</text><text class="d" x="2" y="48.5">T 3</text><text class="d" x="45.5" y="48.5">P 2</text><text class="d" x="89" y="48.5">SBU 112</text></g>
<g id="n-IDACTC2-P2" class="node g" transform="translate(968.5,251.5)"><rect class="f" width="133" height="50"/><rect class="s" x="87" y="39" width="46" height="11"/><path class="gl" d="M0,14H133M0,39H133M43,39V50M87,39V50"/><rect class="o" width="133" height="50"/><text class="t" x="2" y="11">IDACTC2/P2</text><text class="d" x="2" y="25">Databases en SQL</text><text class="d" x="2" y="48.5">T 1</text><text class="d" x="45.5" y="48.5">P 1</text><text class="d" x="89" y="48.5">SBU 56</text></g>
<g id="n-EPRO6X1" class="node g" transform="translate(968.5,479.5)"><rect class="f" width="133" height="50"/><rect class="s" x="87" y="39" width="46" height="11"/><path class="gl" d="M0,14H133M0,39H133M87,39V50"/><rect class="o" width="133" height="50"/><text class="t" x="2" y="11">EPRO6X1</text><text class="d" x="2" y="25">Project: Keuzeproject</text><text class="d" x="89" y="48.5">SBU 168</text></g>
<g id="n-EPRO6C1-P1" class="node g" transform="translate(968.5,555.5)"><rect class="f" width="133" height="50"/><rect class="s" x="87" y="39" width="46" height="11"/><path class="gl" d="M0,14H133M0,39H133M43,39V50M87,39V50"/><rect class="o" width="133" height="50"/><text class="t" x="2" y="11">EPRO6C1/P1</text><text class="d" x="2" y="25">BCO/BK: projectmanagement.</text><text class="d" x="2" y="48.5">T 1</text><text class="d" x="45.5" y="48.5">P 1</text><text class="d" x="89" y="48.5">SBU 56</text></g>
<g id="n-EPRO6X8" class="node g" transform="translate(968.5,707.5)"><rect class="f" width="133" height="50"/><rect class="s" x="87" y="39" width="46" height="11"/><path class="gl" d="M0,14H133M0,39H133M43,39V50M87,39V50"/><rect class="o" width="133" height="50"/><text class="t" x="2" y="11">EPRO6X8</text><text class="d" x="2" y="25">SLB</text><text class="d" x="2" y="48.5">T 0</text><text class="d" x="45.5" y="48.5">P 1</text><text class="d" x="89" y="48.5">SBU 14</text></g>
</g>
</svg>
